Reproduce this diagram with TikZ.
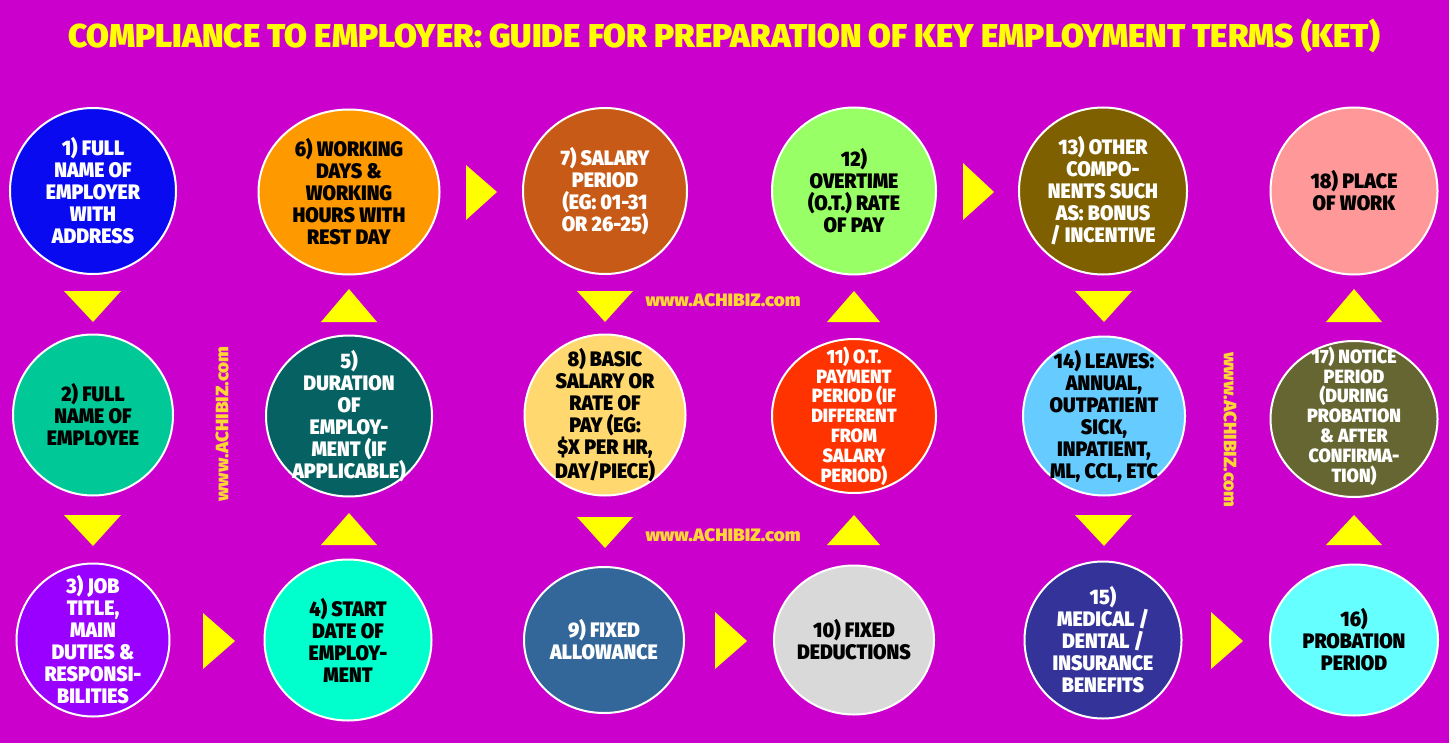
\documentclass[tikz,border=0pt]{standalone}
\usepackage{fontspec}
\IfFontExistsTF{Fira Sans Black}{%
  \setmainfont{Fira Sans Black}[FakeStretch=0.93, BoldFont={Fira Sans Black}]}{%
  \setmainfont{Fira Sans}}
\usetikzlibrary{shapes.geometric}
\definecolor{bg}{HTML}{CC00CC}
\definecolor{ttl}{HTML}{FFFF00}
\definecolor{wm}{HTML}{FFD633}
\definecolor{tri}{HTML}{FFFF00}
\definecolor{k1}{HTML}{0A0AF0}
\definecolor{k2}{HTML}{00C896}
\definecolor{k3}{HTML}{9900FF}
\definecolor{k4}{HTML}{00FFCC}
\definecolor{k5}{HTML}{066262}
\definecolor{k6}{HTML}{FF9900}
\definecolor{k7}{HTML}{C85A18}
\definecolor{k8}{HTML}{FFD970}
\definecolor{k9}{HTML}{336699}
\definecolor{k10}{HTML}{D9D9D9}
\definecolor{k11}{HTML}{FF3300}
\definecolor{k12}{HTML}{99FF66}
\definecolor{k13}{HTML}{7F6000}
\definecolor{k14}{HTML}{66CCFF}
\definecolor{k15}{HTML}{333399}
\definecolor{k16}{HTML}{66FFFF}
\definecolor{k17}{HTML}{666633}
\definecolor{k18}{HTML}{FF9999}
\tikzset{
  disc/.style={ellipse, draw=white, line width=1pt, inner sep=0pt},
  lbl/.style={align=center, inner sep=0pt, font=\bfseries\fontsize{10.5}{11}\selectfont},
  lbls/.style={align=center, inner sep=0pt, font=\bfseries\fontsize{9.6}{9.9}\selectfont},
  tri/.style={fill=tri},
  wmark/.style={text=wm, inner sep=0pt}
}
\newcommand{\wmtext}{\resizebox{77.5pt}{\height}{\bfseries\fontsize{9}{10}\selectfont www.ACHIBIZ.com}}
\begin{document}
\begin{tikzpicture}[x=0.5pt,y=-0.5pt]
\fill[bg] (0,0) rectangle (1449,743);
\useasboundingbox (0,0) rectangle (1449,743);
\node[text=ttl, inner sep=0pt] (title) at (724,36) {\resizebox{656pt}{\height}{\bfseries\fontsize{16.5}{18}\selectfont COMPLIANCE TO EMPLOYER: GUIDE FOR PREPARATION OF KEY EMPLOYMENT TERMS (KET)}};
% circles
\node[disc, fill=k1, minimum width=83pt, minimum height=83pt] (c1) at (93,191) {};
\node[disc, fill=k2, minimum width=80pt, minimum height=80.5pt] (c2) at (93,415) {};
\node[disc, fill=k3, minimum width=76.5pt, minimum height=76.5pt] (c3) at (93,640) {};
\node[disc, fill=k4, minimum width=83.5pt, minimum height=80.5pt] (c4) at (348,640) {};
\node[disc, fill=k5, minimum width=83pt, minimum height=80.5pt] (c5) at (349,416) {};
\node[disc, fill=k6, minimum width=90.5pt, minimum height=82.5pt] (c6) at (349,192) {};
\node[disc, fill=k7, minimum width=82pt, minimum height=83pt] (c7) at (605,191) {};
\node[disc, fill=k8, minimum width=80.5pt, minimum height=80.5pt] (c8) at (605,415) {};
\node[disc, fill=k9, minimum width=80pt, minimum height=73pt] (c9) at (604,640) {};
\node[disc, fill=k10, minimum width=80pt, minimum height=74.5pt] (c10) at (854,640) {};
\node[disc, fill=k11, minimum width=82pt, minimum height=77pt] (c11) at (854,416) {};
\node[disc, fill=k12, minimum width=82pt, minimum height=83.5pt] (c12) at (854,191) {};
\node[disc, fill=k13, minimum width=84pt, minimum height=83.5pt] (c13) at (1103,191) {};
\node[disc, fill=k14, minimum width=81pt, minimum height=79.5pt] (c14) at (1104,416) {};
\node[disc, fill=k15, minimum width=78.5pt, minimum height=78.5pt] (c15) at (1103,640) {};
\node[disc, fill=k16, minimum width=84pt, minimum height=75.5pt] (c16) at (1354,640) {};
\node[disc, fill=k17, minimum width=83.5pt, minimum height=78pt] (c17) at (1354,419) {};
\node[disc, fill=k18, minimum width=83.5pt, minimum height=83.5pt] (c18) at (1354,191) {};
% labels
\node[lbl, text=white] (t1) at (c1) {1) FULL\\NAME OF\\EMPLOYER\\WITH\\ADDRESS};
\node[lbl, text=black] (t2) at (c2) {2) FULL\\NAME OF\\EMPLOYEE};
\node[lbl, text=white] (t3) at (c3) {3) JOB\\TITLE,\\MAIN\\DUTIES \&\\RESPONSI-\\BILITIES};
\node[lbl, text=black] (t4) at (c4) {4) START\\DATE OF\\EMPLOY-\\MENT};
\node[lbl, text=white] (t5) at (c5) {5)\\DURATION\\OF\\EMPLOY-\\MENT (IF\\APPLICABLE)};
\node[lbl, text=black] (t6) at (c6) {6) WORKING\\DAYS \&\\WORKING\\HOURS WITH\\REST DAY};
\node[lbl, text=white] (t7) at (c7) {7) SALARY\\PERIOD\\(EG: 01-31\\OR 26-25)};
\node[lbl, text=black] (t8) at (c8) {8) BASIC\\SALARY OR\\RATE OF\\PAY (EG:\\\$X PER HR,\\DAY/PIECE)};
\node[lbl, text=white] (t9) at (c9) {9) FIXED\\ALLOWANCE};
\node[lbl, text=black] (t10) at (c10) {10) FIXED\\DEDUCTIONS};
\node[lbls, text=white] (t11) at (c11) {11) O.T.\\PAYMENT\\PERIOD (IF\\DIFFERENT\\FROM\\SALARY\\PERIOD)};
\node[lbl, text=black] (t12) at (c12) {12)\\OVERTIME\\(O.T.) RATE\\OF PAY};
\node[lbl, text=white] (t13) at (c13) {13) OTHER\\COMPO-\\NENTS SUCH\\AS: BONUS\\/ INCENTIVE};
\node[lbl, text=black] (t14) at (c14) {14) LEAVES:\\ANNUAL,\\OUTPATIENT\\SICK,\\INPATIENT,\\ML, CCL, ETC};
\node[lbl, text=white] (t15) at (c15) {15)\\MEDICAL /\\DENTAL /\\INSURANCE\\BENEFITS};
\node[lbl, text=black] (t16) at (c16) {16)\\PROBATION\\PERIOD};
\node[lbls, text=white] (t17) at (1354,416) {17) NOTICE\\PERIOD\\(DURING\\PROBATION\\\& AFTER\\CONFIRMA-\\TION)};
\node[lbl, text=black] (t18) at (c18) {18) PLACE\\OF WORK};
% triangles
\fill[tri] (64,291) -- (121,291) -- (93,322) -- cycle;
\fill[tri] (64,515) -- (121,515) -- (93,546) -- cycle;
\fill[tri] (203,613) -- (203,669) -- (235,641) -- cycle;
\fill[tri] (321,545) -- (377,545) -- (349,513) -- cycle;
\fill[tri] (321,322) -- (377,322) -- (349,289) -- cycle;
\fill[tri] (466,165) -- (466,220) -- (497,192) -- cycle;
\fill[tri] (577,291) -- (633,291) -- (605,322) -- cycle;
\fill[tri] (577,517) -- (633,517) -- (605,548) -- cycle;
\fill[tri] (715,612) -- (715,669) -- (747,641) -- cycle;
\fill[tri] (827,545) -- (880,545) -- (854,515) -- cycle;
\fill[tri] (827,322) -- (880,322) -- (854,291) -- cycle;
\fill[tri] (963,163) -- (963,220) -- (994,192) -- cycle;
\fill[tri] (1075,291) -- (1132,291) -- (1104,322) -- cycle;
\fill[tri] (1075,515) -- (1132,515) -- (1104,546) -- cycle;
\fill[tri] (1211,612) -- (1211,669) -- (1243,641) -- cycle;
\fill[tri] (1326,545) -- (1382,545) -- (1354,515) -- cycle;
\fill[tri] (1326,322) -- (1382,322) -- (1354,289) -- cycle;
% watermarks
\node[wmark] (w1) at (723,300) {\wmtext};
\node[wmark] (w2) at (723,535) {\wmtext};
\node[wmark, rotate=90] (w3) at (222,424) {\wmtext};
\node[wmark, rotate=-90] (w4) at (1230,430) {\wmtext};
\end{tikzpicture}
\end{document}
